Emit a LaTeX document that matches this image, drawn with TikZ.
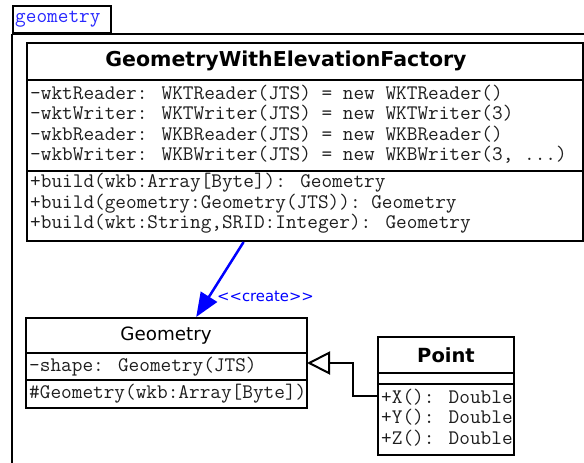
\documentclass[tikz,border=0pt]{standalone}
\usepackage{fontspec}
\newfontfamily\sansf{DejaVu Sans}
\usetikzlibrary{arrows.meta,calc}
\definecolor{umlblue}{RGB}{0,0,255}
\definecolor{pkgblue}{RGB}{40,40,255}
\definecolor{monotext}{RGB}{30,30,30}
\begin{document}
\begin{tikzpicture}[x=1pt,y=-1pt,
  box/.style={draw=black, line width=2pt, fill=white, anchor=north west, inner sep=0pt},
  sepline/.style={draw=black, line width=2pt},
  row/.style={anchor=west, inner sep=0pt, text=monotext, font=\ttfamily\fontsize{20.7}{22}\selectfont},
  bttl/.style={inner sep=0pt, font=\sansf\bfseries\fontsize{20.5}{24}\selectfont},
  rttl/.style={inner sep=0pt, font=\sansf\fontsize{18.3}{22}\selectfont},
  createarrow/.style={draw=umlblue, line width=2.5pt, -{Triangle[length=24pt,width=19pt]}},
  inherit/.style={draw=black, line width=2pt, -{Triangle[open,length=23pt,width=23pt,fill=white]}, shorten >=-1pt}
]
\useasboundingbox (0,0) rectangle (584,463);
\clip (0,0) rectangle (584,463);
\fill[white] (0,0) rectangle (584,463);

% package
\node[box, minimum width=98pt, minimum height=27pt] (tab) at (12,5) {};
\node[row, text=pkgblue] (tabT) at (15,19) {geometry};
\draw[sepline] (tab.south west) -- ++(0,500);
\draw[sepline] (tab.south west) -- ++(600,0);

% factory
\node[box, minimum width=556pt, minimum height=198pt] (fac) at (26,42) {};
\draw[sepline] (fac.west |- 0,80) -- (fac.east |- 0,80);
\draw[sepline] (fac.west |- 0,171) -- (fac.east |- 0,171);
\node[bttl] (facT) at (286,61) {GeometryWithElevationFactory};
\node[row] (fa1) at (30,93) {-wktReader: WKTReader(JTS) = new WKTReader()};
\node[row] (fa2) at (30,113.5) {-wktWriter: WKTWriter(JTS) = new WKTWriter(3)};
\node[row] (fa3) at (30,134) {-wkbReader: WKBReader(JTS) = new WKBReader()};
\node[row] (fa4) at (30,154.5) {-wkbWriter: WKBWriter(JTS) = new WKBWriter(3, ...)};
\node[row] (fm1) at (30,183) {+build(wkb:Array[Byte]): Geometry};
\node[row] (fm2) at (30,203.5) {+build(geometry:Geometry(JTS)): Geometry};
\node[row] (fm3) at (30,224) {+build(wkt:String,SRID:Integer): Geometry};

% geometry
\node[box, minimum width=281pt, minimum height=90pt] (geo) at (25,317) {};
\draw[sepline] (geo.west |- 0,353) -- (geo.east |- 0,353);
\draw[sepline] (geo.west |- 0,380) -- (geo.east |- 0,380);
\node[rttl] (geoT) at (166,336) {Geometry};
\node[row] (ga1) at (29,367) {-shape: Geometry(JTS)};
\node[row] (gm1) at (29,393.5) {\#Geometry(wkb:Array[Byte])};

% point
\node[box, minimum width=136pt, minimum height=118pt] (pt) at (377,336) {};
\draw[sepline] (pt.west |- 0,373) -- (pt.east |- 0,373);
\draw[sepline] (pt.west |- 0,384) -- (pt.east |- 0,384);
\node[bttl, font=\sansf\bfseries\fontsize{19.5}{24}\selectfont] (ptT) at (446,355) {Point};
\node[row] (pm1) at (381,397) {+X(): Double};
\node[row] (pm2) at (381,417.5) {+Y(): Double};
\node[row] (pm3) at (381,438) {+Z(): Double};

% connectors
\draw[createarrow] ($(fac.south west)!0.39!(fac.south east)$) -- ($(geo.north west)!0.605!(geo.north east)$);
\node[inner sep=0pt, text=umlblue, font=\sansf\fontsize{14.8}{17}\selectfont] (crL) at (265.5,296) {<<create>>};
\draw[inherit] (pt.west) -- ++(-24,0) |- (geo.east);
\end{tikzpicture}
\end{document}
